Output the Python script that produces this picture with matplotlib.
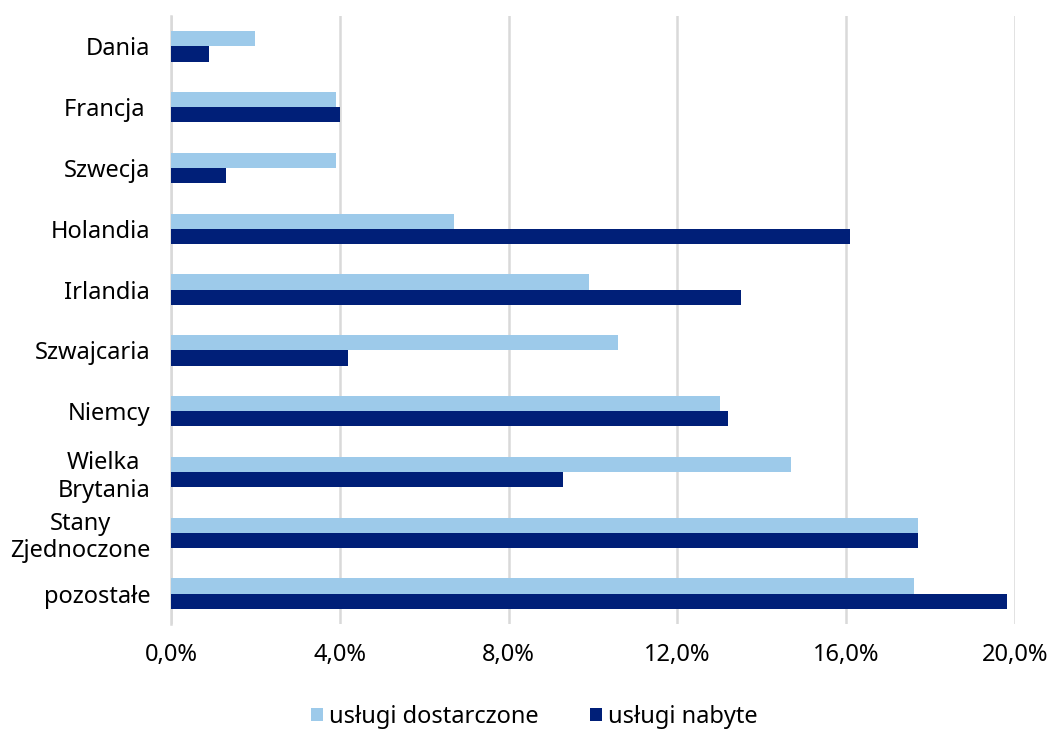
import numpy as np
import matplotlib
matplotlib.use("Agg")
from matplotlib import pyplot as plt
from matplotlib.ticker import FuncFormatter

plt.rcParams['font.family'] = ['Noto Sans', 'DejaVu Sans']

kraje = ['Dania', 'Francja ', 'Szwecja', 'Holandia', 'Irlandia', 'Szwajcaria',
         'Niemcy', 'Wielka\nBrytania', 'Stany\nZjednoczone', 'pozostałe']
dostarczone = [2.0, 3.9, 3.9, 6.7, 9.9, 10.6, 13.0, 14.7, 17.7, 17.6]
nabyte = [0.9, 4.0, 1.3, 16.1, 13.5, 4.2, 13.2, 9.3, 17.7, 19.8]

jasny = '#9DCAEA'
ciemny = '#001F78'

fig = plt.figure(figsize=(10.48, 7.44), dpi=100)
ax = fig.add_axes([171/1048, 1 - 624/744, (1015 - 171)/1048, (624 - 16)/744])

y = np.arange(len(kraje))
h = 0.25
ax.barh(y - h/2, dostarczone, height=h, color=jasny, label='usługi dostarczone', zorder=3)
ax.barh(y + h/2, nabyte, height=h, color=ciemny, label='usługi nabyte', zorder=3)

ax.set_ylim(len(kraje) - 0.5, -0.5)
ax.set_xlim(0, 20)
ax.set_xticks(np.arange(0, 21, 4))
ax.xaxis.set_major_formatter(FuncFormatter(lambda v, p: f'{v:.1f}%'.replace('.', ',')))
ax.set_yticks(y)
ax.set_yticklabels(kraje, fontsize=17, ha='right', multialignment='center')
ax.tick_params(axis='x', labelsize=17, length=0, pad=14)
ax.tick_params(axis='y', length=0, pad=15)
ax.grid(axis='x', color='#D9D9D9', linewidth=1.8, zorder=0)
for s in ['top', 'right', 'bottom']:
    ax.spines[s].set_visible(False)
ax.spines['left'].set_color('#D9D9D9')
ax.spines['left'].set_linewidth(1.8)

fig.legend(loc='lower center', bbox_to_anchor=(0.51, -0.008), ncol=2, frameon=False,
           fontsize=17, handlelength=0.5, handleheight=0.5, handletextpad=0.25,
           columnspacing=2.2)

fig.savefig('out.png', dpi=100)
